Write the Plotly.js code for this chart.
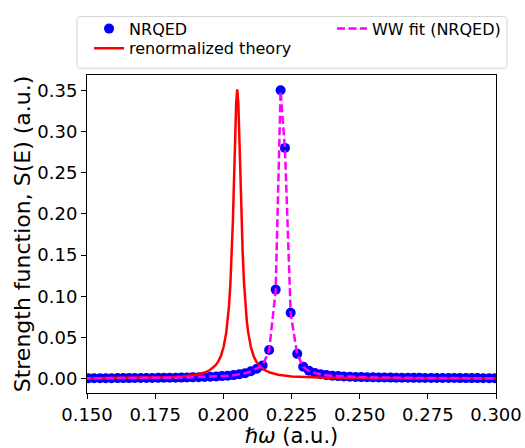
<!DOCTYPE html>
<html>
<head>
<meta charset="utf-8">
<script src="https://cdn.plot.ly/plotly-3.0.1.min.js"></script>
<style>html,body{margin:0;padding:0;background:#fff;}#plot{width:525px;height:448px;}</style>
</head>
<body>
<div id="plot"></div>
<script>
// NRQED data points
var nrqedX = [0.1484,0.1505,0.1526,0.1548,0.1569,0.1590,0.1612,0.1633,0.1654,0.1675,
  0.1697,0.1718,0.1739,0.1761,0.1782,0.1803,0.1825,0.1846,0.1867,0.1888,
  0.1910,0.1931,0.1952,0.1974,0.1995,0.2016,0.2038,0.2059,0.2080,0.2101,
  0.2123,0.2144,0.2168,0.2192,0.2210,0.2226,0.2247,0.2271,0.2293,0.2314,
  0.2336,0.2357,0.2378,0.2400,0.2421,0.2442,0.2464,0.2485,0.2506,0.2527,
  0.2549,0.2570,0.2591,0.2613,0.2634,0.2655,0.2677,0.2698,0.2719,0.2740,
  0.2762,0.2783,0.2804,0.2826,0.2847,0.2868,0.2890,0.2911,0.2932,0.2953,
  0.2975,0.2996,0.3017];
var nrqedY = [0.0004,0.0004,0.0004,0.0005,0.0005,0.0005,0.0006,0.0006,0.0006,0.0007,
  0.0007,0.0008,0.0008,0.0009,0.0010,0.0010,0.0011,0.0012,0.0014,0.0015,
  0.0017,0.0019,0.0022,0.0025,0.0030,0.0035,0.0042,0.0052,0.0066,0.0088,
  0.0120,0.0160,0.0347,0.1080,0.3500,0.2800,0.0800,0.0300,0.0145,0.0095,
  0.0068,0.0052,0.0042,0.0035,0.0030,0.0026,0.0023,0.0020,0.0018,0.0016,
  0.0015,0.0014,0.0013,0.0012,0.0011,0.0010,0.0010,0.0009,0.0009,0.0008,
  0.0008,0.0008,0.0007,0.0007,0.0007,0.0006,0.0006,0.0006,0.0006,0.0005,
  0.0005,0.0005,0.0005];
// WW fit evaluated on the NRQED grid
var fitY = [0.0003,0.0003,0.0004,0.0004,0.0004,0.0005,0.0005,0.0005,0.0006,0.0006,
  0.0007,0.0007,0.0008,0.0008,0.0009,0.0010,0.0011,0.0012,0.0013,0.0015,
  0.0017,0.0019,0.0022,0.0025,0.0029,0.0034,0.0041,0.0051,0.0065,0.0087,
  0.0119,0.0158,0.0340,0.1070,0.3490,0.2790,0.0790,0.0295,0.0142,0.0093,
  0.0067,0.0051,0.0041,0.0034,0.0029,0.0025,0.0022,0.0020,0.0018,0.0016,
  0.0014,0.0013,0.0012,0.0011,0.0011,0.0010,0.0009,0.0009,0.0008,0.0008,
  0.0007,0.0007,0.0007,0.0006,0.0006,0.0006,0.0006,0.0005,0.0005,0.0005,
  0.0005,0.0004,0.0004];
// renormalized theory curve
var theoryX = [0.1500,0.1651,0.1751,0.1801,0.1851,0.1901,0.1931,0.1951,0.1971,0.1981,
  0.1991,0.2001,0.2011,0.2016,0.2021,0.2026,0.2031,0.2035,0.2039,0.2043,
  0.2047,0.2051,0.2055,0.2059,0.2063,0.2067,0.2071,0.2076,0.2081,0.2086,
  0.2091,0.2101,0.2111,0.2121,0.2131,0.2151,0.2171,0.2201,0.2251,0.2301,
  0.2351,0.2451,0.2651,0.3000];
var theoryY = [0.00035,0.00067,0.00119,0.00171,0.00267,0.00471,0.00731,0.0104,0.0160,0.0206,
  0.0275,0.0383,0.0564,0.0702,0.0891,0.1154,0.1522,0.1912,0.2387,0.2903,
  0.3336,0.3510,0.3336,0.2903,0.2387,0.1912,0.1522,0.1154,0.0891,0.0702,
  0.0564,0.0383,0.0275,0.0206,0.0160,0.0104,0.00731,0.00471,0.00267,0.00171,
  0.00119,0.00067,0.00030,0.00012];
var xTicks = [0.150,0.175,0.200,0.225,0.250,0.275,0.300];
var yTicks = [0.00,0.05,0.10,0.15,0.20,0.25,0.30,0.35];

var FONT = 'DejaVu Sans, sans-serif';
var traces = [
  {x: nrqedX, y: nrqedY, type: 'scatter', mode: 'markers', name: 'NRQED',
   marker: {color: '#0000ff', size: 10}, legend: 'legend', cliponaxis: true},
  {x: theoryX, y: theoryY, type: 'scatter', mode: 'lines', name: 'renormalized theory',
   line: {color: '#ff0000', width: 2.5}, legend: 'legend3'},
  {x: nrqedX, y: fitY, type: 'scatter', mode: 'lines', name: 'WW fit (NRQED)',
   line: {color: '#ff00ff', width: 2.5, dash: '8px,3.5px'}, legend: 'legend2'}
];
var legFont = {family: FONT, size: 16, color: '#000'};
function leg(x, y) {
  return {orientation: 'v', x: x, xanchor: 'left', y: y, yanchor: 'top',
          font: legFont, borderwidth: 0, bgcolor: 'rgba(0,0,0,0)'};
}
var layout = {
  width: 525, height: 448,
  margin: {l: 87, r: 29, t: 67, b: 55},
  paper_bgcolor: '#ffffff', plot_bgcolor: '#ffffff',
  font: {family: FONT, color: '#000000', size: 18},
  showlegend: true,
  legend: leg(0.005, 1.1990),
  legend2: leg(0.599, 1.1990),
  legend3: leg(0.005, 1.1375),
  shapes: [{
    type: 'path', xref: 'paper', yref: 'paper', layer: 'below',
    path: 'M -0.0171,1.1840 L 1.0196,1.1840 Q 1.0269,1.1840 1.0269,1.1748 L 1.0269,1.0307 Q 1.0269,1.0215 1.0196,1.0215 L -0.0171,1.0215 Q -0.0245,1.0215 -0.0245,1.0307 L -0.0245,1.1748 Q -0.0245,1.1840 -0.0171,1.1840 Z',
    line: {color: '#d6d6d6', width: 1}, fillcolor: '#ffffff'
  }],
  xaxis: {
    range: [0.15, 0.30], tickvals: xTicks, tickformat: '.3f',
    ticks: 'outside', ticklen: 5, tickwidth: 1, tickcolor: '#000',
    showline: true, linecolor: '#000', linewidth: 1, mirror: true,
    showgrid: false, zeroline: false, automargin: false,
    tickfont: {family: FONT, size: 18},
    title: {text: '<i>ℏω</i> (a.u.)', font: {family: FONT, size: 21}, standoff: 8}
  },
  yaxis: {
    range: [-0.0175, 0.3685], tickvals: yTicks, tickformat: '.2f',
    ticks: 'outside', ticklen: 5, tickwidth: 1, tickcolor: '#000',
    showline: true, linecolor: '#000', linewidth: 1, mirror: true,
    showgrid: false, zeroline: false, automargin: false,
    tickfont: {family: FONT, size: 18},
    title: {text: 'Strength function, S(E) (a.u.)', font: {family: FONT, size: 22}, standoff: 0}
  }
};
Plotly.newPlot('plot', traces, layout, {displayModeBar: false, staticPlot: true});
</script>
</body>
</html>
